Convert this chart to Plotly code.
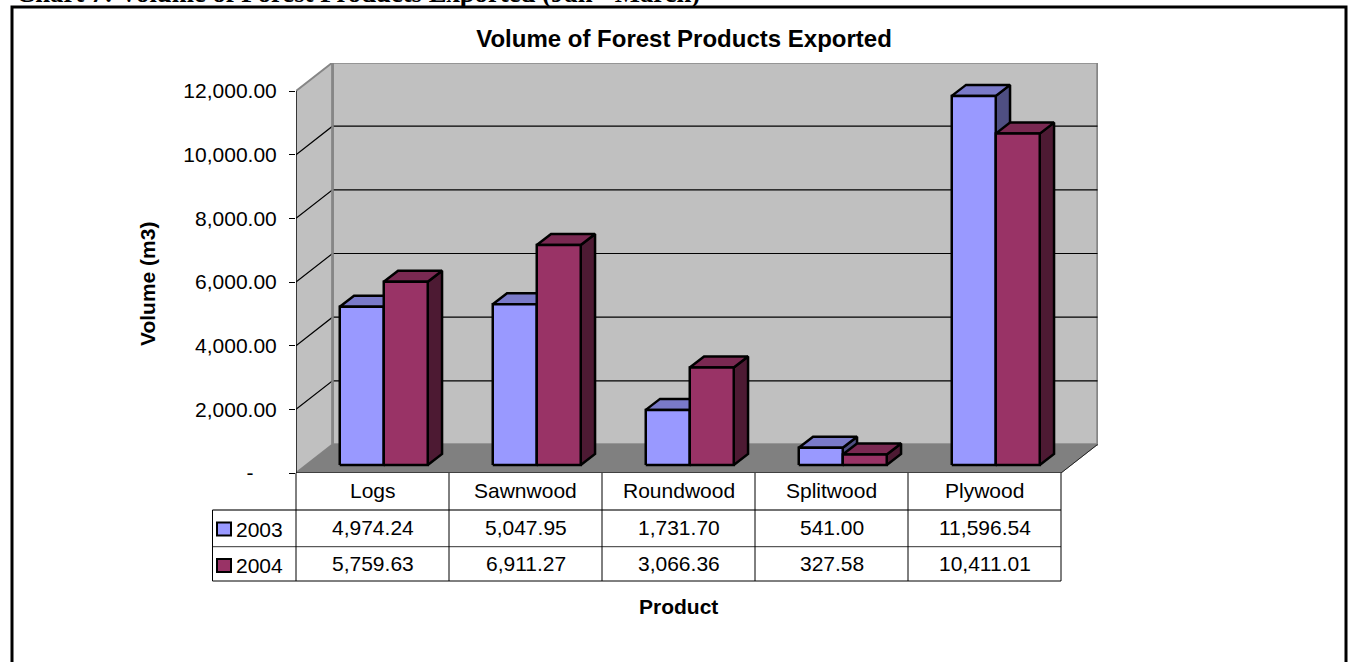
import plotly.graph_objects as go

# ---------- data ----------
categories = ["Logs", "Sawnwood", "Roundwood", "Splitwood", "Plywood"]
series_names = ["2003", "2004"]
values_2003 = [4974.24, 5047.95, 1731.70, 541.00, 11596.54]
values_2004 = [5759.63, 6911.27, 3066.36, 327.58, 10411.01]
tick_values = [0, 2000, 4000, 6000, 8000, 10000, 12000]
tick_labels = ["-\u00a0\u00a0\u00a0\u00a0", "2,000.00", "4,000.00", "6,000.00", "8,000.00", "10,000.00", "12,000.00"]
grid_values = [2000, 4000, 6000, 8000, 10000]

# ---------- page geometry (pixels) ----------
W, H = 1351, 662
L, R, T, B = 296.0, 1098.0, 63.0, 473.0     # plot box including the depth of the 3-D box
CAT_PX = 153.0                              # category width on the front plane
PX_PER_UNIT = 0.03183                       # pixels per m3
DX_PX, DY_PX = 36.5, 28.5                   # depth of the box


def ux(px):
    return px / CAT_PX


def uy(px):
    return px / PX_PER_UNIT


def pxp(x):
    return (x - L) / (R - L)


def pyp(y):
    return (B - y) / (B - T)


DX, DY = ux(DX_PX), uy(DY_PX)
X_MAX = ux(R - L)
Y_MAX = uy(B - T)
Y_WALL = 12000

BAR_W = ux(44.0)
BAR_GAP = ux(32.25)
FRONT_DX, FRONT_DY = ux(11.5), uy(8.0)
BACK_DX, BACK_DY = ux(25.8), uy(19.0)

WALL = "#C0C0C0"
FLOOR = "#808080"
EDGE = "#868686"
colors = {
    "2003": ("#9999FF", "#7A7AC9", "#4F4F82"),
    "2004": ("#993366", "#7A2952", "#4D1A33"),
}

fig = go.Figure()


def poly(xs, ys, fill, line, width, name=None):
    fig.add_trace(go.Scatter(
        x=list(xs) + [xs[0]], y=list(ys) + [ys[0]], mode="lines", fill="toself",
        fillcolor=fill, line=dict(color=line, width=width), cliponaxis=False,
        hoverinfo="skip", showlegend=False, name=name))


def seg(xs, ys, color="black", width=1.2):
    fig.add_trace(go.Scatter(
        x=xs, y=ys, mode="lines", line=dict(color=color, width=width), cliponaxis=False,
        hoverinfo="skip", showlegend=False))


# walls and floor
n = len(categories)
poly([DX, n + DX, n + DX, DX], [DY, DY, DY + Y_WALL, DY + Y_WALL], WALL, EDGE, 2.5, "back wall")
poly([0, DX, DX, 0], [0, DY, DY + Y_WALL, Y_WALL], WALL, EDGE, 2, "side wall")
for g in grid_values:
    seg([0, DX, n + DX], [g, g + DY, g + DY])
poly([0, n, n + DX, DX], [0, 0, DY, DY], FLOOR, FLOOR, 1, "floor")
seg([DX, DX], [DY, DY + Y_WALL], EDGE, 2.5)
seg([n, n + DX], [0, DY], "#222222", 1)
seg([0, 0], [0, Y_WALL])
seg([0, n], [0, 0])

# bars
for i, cat in enumerate(categories):
    for s, vals in enumerate([values_2003, values_2004]):
        front, top, side = colors[series_names[s]]
        x0 = i + BAR_GAP + FRONT_DX + s * BAR_W
        x1 = x0 + BAR_W
        y0 = FRONT_DY
        y1 = FRONT_DY + vals[i]
        ddx, ddy = BACK_DX - FRONT_DX, BACK_DY - FRONT_DY
        poly([x1, x1 + ddx, x1 + ddx, x1], [y0, y0 + ddy, y1 + ddy, y1], side, "black", 2.5)
        poly([x0, x1, x1 + ddx, x0 + ddx], [y1, y1, y1 + ddy, y1 + ddy], top, "black", 2.5)
        poly([x0, x1, x1, x0], [y0, y0, y1, y1], front, "black", 2.5,
             name=f"{series_names[s]} {cat}")

# data table
FS = 21
ROW_Y = [473.0, 510.0, 546.7, 581.0]
LEG_L = 212.5
shapes = []


def pline(x0, y0, x1, y1, color="black", width=1):
    shapes.append(dict(type="line", xref="paper", yref="paper", x0=pxp(x0), y0=pyp(y0),
                       x1=pxp(x1), y1=pyp(y1), line=dict(color=color, width=width)))


pline(LEG_L, ROW_Y[1], L + n * CAT_PX, ROW_Y[1], "#444444", 1.5)
pline(LEG_L, ROW_Y[2], L + n * CAT_PX, ROW_Y[2], "#333333", 1)
pline(LEG_L, ROW_Y[3], L + n * CAT_PX, ROW_Y[3], "black", 1)
pline(LEG_L, ROW_Y[1], LEG_L, ROW_Y[3])
for i in range(n + 1):
    pline(L + i * CAT_PX, ROW_Y[0], L + i * CAT_PX, ROW_Y[3])

annots = []


def label(x, y, text, size=FS, bold=False, family="Liberation Sans", angle=0, xanchor="center"):
    annots.append(dict(
        xref="paper", yref="paper", x=pxp(x), y=pyp(y), text=f"<b>{text}</b>" if bold else text,
        showarrow=False, xanchor=xanchor, yanchor="middle", textangle=angle,
        font=dict(family=family, size=size, color="black"), borderpad=0, borderwidth=0))


for i, cat in enumerate(categories):
    cx = L + (i + 0.5) * CAT_PX
    label(cx, 490, cat)
    label(cx, 527, f"{values_2003[i]:,.2f}")
    label(cx, 563, f"{values_2004[i]:,.2f}")

for r, nm in enumerate(series_names):
    yc = (529, 565.5)[r]
    y_key = (529, 565.5)[r]
    shapes.append(dict(type="rect", xref="paper", yref="paper",
                       x0=pxp(217), x1=pxp(231), y0=pyp(y_key - 6.5), y1=pyp(y_key + 6.5),
                       fillcolor=colors[nm][0], line=dict(color="black", width=2)))
    label(235.5, yc, nm, xanchor="left")

# frame around the chart (its bottom edge runs off the page)
shapes.append(dict(type="path", xref="paper", yref="paper",
                   path=f"M {pxp(12)} {pyp(680)} L {pxp(12)} {pyp(7)} L {pxp(1346)} {pyp(7)} L {pxp(1346)} {pyp(680)}",
                   line=dict(color="black", width=3)))

label(147, 284, "Volume (m3)", size=21, bold=True, angle=-90)
label(678, 606, "Product", size=21, bold=True)
# caption above the chart, cut off by the top of the page
annots.append(dict(xref="paper", yref="paper", x=pxp(15), y=pyp(9), xanchor="left", yanchor="bottom",
                   showarrow=False, borderpad=0,
                   text="<b>Chart 7: Volume of Forest Products Exported (Jan - March)</b>",
                   font=dict(family="Liberation Serif", size=26.7, color="black")))

fig.update_layout(
    width=W, height=H, autosize=False,
    margin=dict(l=L, r=W - R, t=T, b=H - B, pad=0),
    paper_bgcolor="white", plot_bgcolor="white", showlegend=False,
    title=dict(text="<b>Volume of Forest Products Exported</b>", x=684 / W,
               xref="container", xanchor="center", y=1 - 39 / H, yref="container", yanchor="middle",
               font=dict(family="Liberation Sans", size=24, color="black")),
    xaxis=dict(range=[0, X_MAX], visible=False, fixedrange=True),
    yaxis=dict(range=[0, Y_MAX], showgrid=False, zeroline=False, showline=False,
               tickmode="array", tickvals=tick_values, ticktext=tick_labels,
               ticks="outside", ticklen=6, tickcolor="black", tickwidth=1, ticklabelstandoff=8,
               tickfont=dict(family="Liberation Sans", size=FS, color="black"), fixedrange=True),
    shapes=shapes, annotations=annots,
)

fig.write_html("out.html", config=dict(displayModeBar=False),
               post_script="document.body.style.margin='0';document.body.style.overflow='hidden';")
